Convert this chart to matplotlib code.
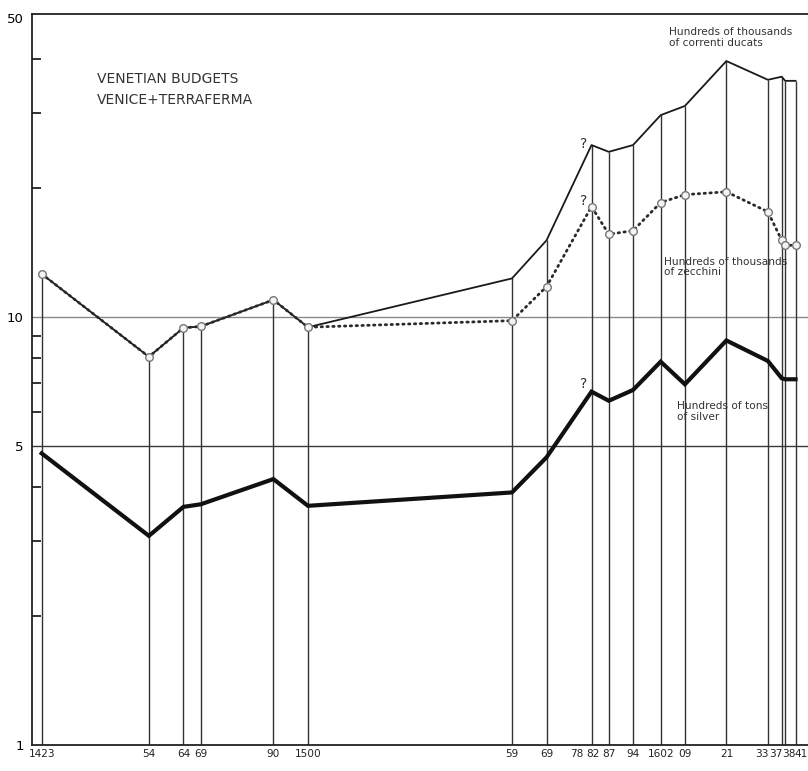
import matplotlib
matplotlib.use("Agg")
import matplotlib.pyplot as plt
import matplotlib.transforms as mtransforms
from matplotlib.ticker import FixedLocator, NullFormatter

# --- data (log scale values) ---
years = [1423, 1454, 1464, 1469, 1490, 1500, 1559, 1569, 1582, 1587,
         1594, 1602, 1609, 1621, 1633, 1637, 1638, 1641]
ducats = [12.6, 8.07, 9.43, 9.5, 10.96, 9.46, 12.3, 15.1, 25.2, 24.3,
          25.2, 29.6, 31.1, 39.6, 35.8, 36.4, 35.6, 35.6]
zecchini = [12.6, 8.07, 9.43, 9.5, 10.96, 9.46, 9.8, 11.77, 18.1, 15.6,
            15.9, 18.5, 19.3, 19.6, 17.6, 15.1, 14.7, 14.7]
silver = [4.80, 3.08, 3.60, 3.65, 4.18, 3.62, 3.89, 4.7, 6.69, 6.37,
          6.75, 7.86, 6.96, 8.81, 7.89, 7.19, 7.15, 7.15]

tick_years = [1423, 1454, 1464, 1469, 1490, 1500, 1559, 1569, 1578, 1582,
              1587, 1594, 1602, 1609, 1621, 1633, 1637, 1638, 1641]
tick_labels = ["1423", "54", "64", "69", "90", "1500", "59", "69", "78", "82",
               "87", "94", "1602", "09", "21", "33", "37", "38", "41"]

plt.rcParams["font.family"] = ["DejaVu Sans"]

fig = plt.figure(figsize=(8.08, 7.71), dpi=100)
ax = fig.add_axes([32 / 808, 1 - 745 / 771, 1 - 32 / 808, (745 - 14) / 771])
ax.set_yscale("log")
ax.set_xlim(1420.2, 1644.6)
ax.set_ylim(1, 51)

# reference lines at 5 and 10
ax.axhline(10, color="#8a8a8a", lw=1.0, zorder=1)
ax.axhline(5, color="#3a3a3a", lw=1.0, zorder=1)

# year verticals up to the ducat curve
ax.vlines(years, 1, ducats, color="#333333", lw=1.0, zorder=2)

ax.plot(years, ducats, color="#1a1a1a", lw=1.3, zorder=3)
ax.plot(years, zecchini, color="#2a2a2a", lw=2.0, ls=(0, (0.5, 1.6)),
        dash_capstyle="round", zorder=3)
ax.plot(years, zecchini, ls="none", marker="o", ms=5.5, mfc="#f4f4f4",
        mec="#777777", mew=1.0, zorder=4)
ax.plot(years, silver, color="#111111", lw=3.0, solid_joinstyle="miter",
        zorder=3)

# axes styling
ax.spines["right"].set_visible(False)
for side in ("left", "top", "bottom"):
    ax.spines[side].set_color("#222222")
    ax.spines[side].set_linewidth(1.3)

ax.yaxis.set_major_locator(FixedLocator([1, 5, 10, 50]))
ax.set_yticklabels(["1", "5", "10", "50"])
ax.yaxis.set_minor_locator(FixedLocator([2, 3, 4, 6, 7, 8, 9, 20, 30, 40]))
ax.yaxis.set_minor_formatter(NullFormatter())
ax.tick_params(axis="y", which="major", length=0, pad=6, labelsize=9.5)
ax.tick_params(axis="y", which="minor", direction="in", length=6.5,
               width=1.3, color="#222222")

ax.set_xticks([])
xt = mtransforms.blended_transform_factory(ax.transData, ax.transAxes)
nudge = {"78": -1, "82": 1, "33": -6, "37": -6, "38": 4, "41": 6}
for yr, lab in zip(tick_years, tick_labels):
    off = mtransforms.ScaledTranslation(nudge.get(lab, 0) / 100, -4 / 100,
                                        fig.dpi_scale_trans)
    ax.text(yr, 0, lab, transform=xt + off, ha="center", va="top",
            fontsize=7.6, color="#222222")

# titles and series notes
ax.text(1439, 34, "VENETIAN BUDGETS\nVENICE+TERRAFERMA", fontsize=10,
        color="#333333", va="center", ha="left", linespacing=1.6)
note = dict(fontsize=7.6, color="#333333", va="top", ha="left",
            linespacing=1.05)
ax.text(1604.4, 47.5, "Hundreds of thousands\nof correnti ducats", **note)
ax.text(1603, 13.8, "Hundreds of thousands\nof zecchini", **note)
ax.text(1606.7, 6.35, "Hundreds of tons\nof silver", **note)
for val in (24.4, 18.0, 6.7):
    ax.text(1579.8, val, "?", fontsize=10, color="#333333", ha="center",
            va="bottom")

fig.savefig("out.png", dpi=100)
